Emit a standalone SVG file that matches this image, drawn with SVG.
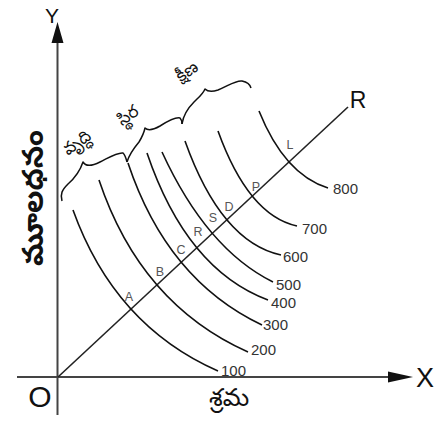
<svg xmlns="http://www.w3.org/2000/svg" width="436" height="425" viewBox="0 0 436 425">
<style>
.axis{stroke:#444;stroke-width:2;fill:none}
.curve{stroke:#111;stroke-width:1.6;fill:none}
.brace{stroke:#111;stroke-width:1.5;fill:none;stroke-linejoin:round}
.num{font-family:"Liberation Sans",Arial,sans-serif;font-size:15px;fill:#333}
.pt{font-family:"Liberation Sans",Arial,sans-serif;font-size:12.5px;fill:#555;text-anchor:middle}
.big{font-family:"Liberation Sans",Arial,sans-serif;fill:#111}
.tel{font-family:"Noto Sans Telugu","Noto Sans","Noto Serif Telugu",sans-serif;fill:#111}
</style>
<rect width="436" height="425" fill="#fff"/>
<g id="connectors">
  <line class="axis" x1="57.5" y1="415" x2="57.5" y2="40"/>
  <polygon points="57.5,22 51.5,43 63.5,43" fill="#111"/>
  <line class="axis" x1="17" y1="377" x2="395" y2="377"/>
  <polygon points="413,377 388,371.5 388,382.5" fill="#111"/>
  <line x1="58" y1="377" x2="348" y2="107" stroke="#222" stroke-width="1.6"/>
</g>
<g id="isoquants">
  <path id="q100" class="curve" d="M73,210 Q114.5,325.5 218,371"/>
  <path id="q200" class="curve" d="M99,180 Q140.5,304 248,352"/>
  <path id="q300" class="curve" d="M128,163 Q167,280 262,325"/>
  <path id="q400" class="curve" d="M147,153 Q186.5,269.5 268,300"/>
  <path id="q500" class="curve" d="M162,152 Q206.5,249 273,282"/>
  <path id="q600" class="curve" d="M185,141 Q221,242 281,255"/>
  <path id="q700" class="curve" d="M218,131 Q248.5,215.5 297,226"/>
  <path id="q800" class="curve" d="M259,111 Q284.5,174.5 328,188"/>
</g>
<g id="braces">
  <path class="brace" d="M62,201 C60,194 62,190 68,184 C76,177 80,171 83,162 C86,167 92,166 100,162 C110,157 118,152 123,153 C125,155 126,158 127,162"/>
  <path class="brace" d="M127,162 C129,155 134,148 139,142 C142,137 144,133 145,128 C148,131 153,130 160,126 C168,121 176,117 180,118 C181,119 182,121 182,124"/>
  <path class="brace" d="M182,124 C183,117 188,108 194,102 C199,97 203,94 205,89 C208,92 212,92 218,90 C228,86 236,80 242,81 C247,82 250,84 251,88"/>
</g>
<g id="labels-num">
  <text class="num" x="333" y="194">800</text>
  <text class="num" x="302" y="234">700</text>
  <text class="num" x="283" y="262">600</text>
  <text class="num" x="276" y="290">500</text>
  <text class="num" x="271" y="308">400</text>
  <text class="num" x="263" y="330">300</text>
  <text class="num" x="251" y="355">200</text>
  <text class="num" x="221" y="376">100</text>
</g>
<g id="labels-pt">
  <text class="pt" x="129" y="301">A</text>
  <text class="pt" x="160" y="276">B</text>
  <text class="pt" x="181" y="254">C</text>
  <text class="pt" x="198" y="236">R</text>
  <text class="pt" x="213" y="222">S</text>
  <text class="pt" x="229" y="211">D</text>
  <text class="pt" x="256" y="191">P</text>
  <text class="pt" x="290" y="149">L</text>
</g>
<g id="axis-labels">
  <text class="big" x="52" y="23" font-size="21" text-anchor="middle">Y</text>
  <text class="big" x="425" y="387" font-size="27" text-anchor="middle">X</text>
  <text class="big" x="358" y="108" font-size="23" text-anchor="middle">R</text>
  <text class="big" x="40" y="407" font-size="30" text-anchor="middle">O</text>
</g>
<g id="telugu">
  <text class="tel" transform="translate(43,198) rotate(-90)" font-size="29" font-weight="bold" text-anchor="middle">మూలధనం</text>
  <text class="tel" x="229" y="406" font-size="25" text-anchor="middle">శ్రమ</text>
  <text class="tel" transform="translate(80,147) rotate(-35)" font-size="17" text-anchor="middle">వృద్ధి</text>
  <text class="tel" transform="translate(131,120) rotate(-35)" font-size="17" text-anchor="middle">స్థిర</text>
  <text class="tel" transform="translate(190,76) rotate(-35)" font-size="17" text-anchor="middle">క్షీణ</text>
</g>
</svg>
